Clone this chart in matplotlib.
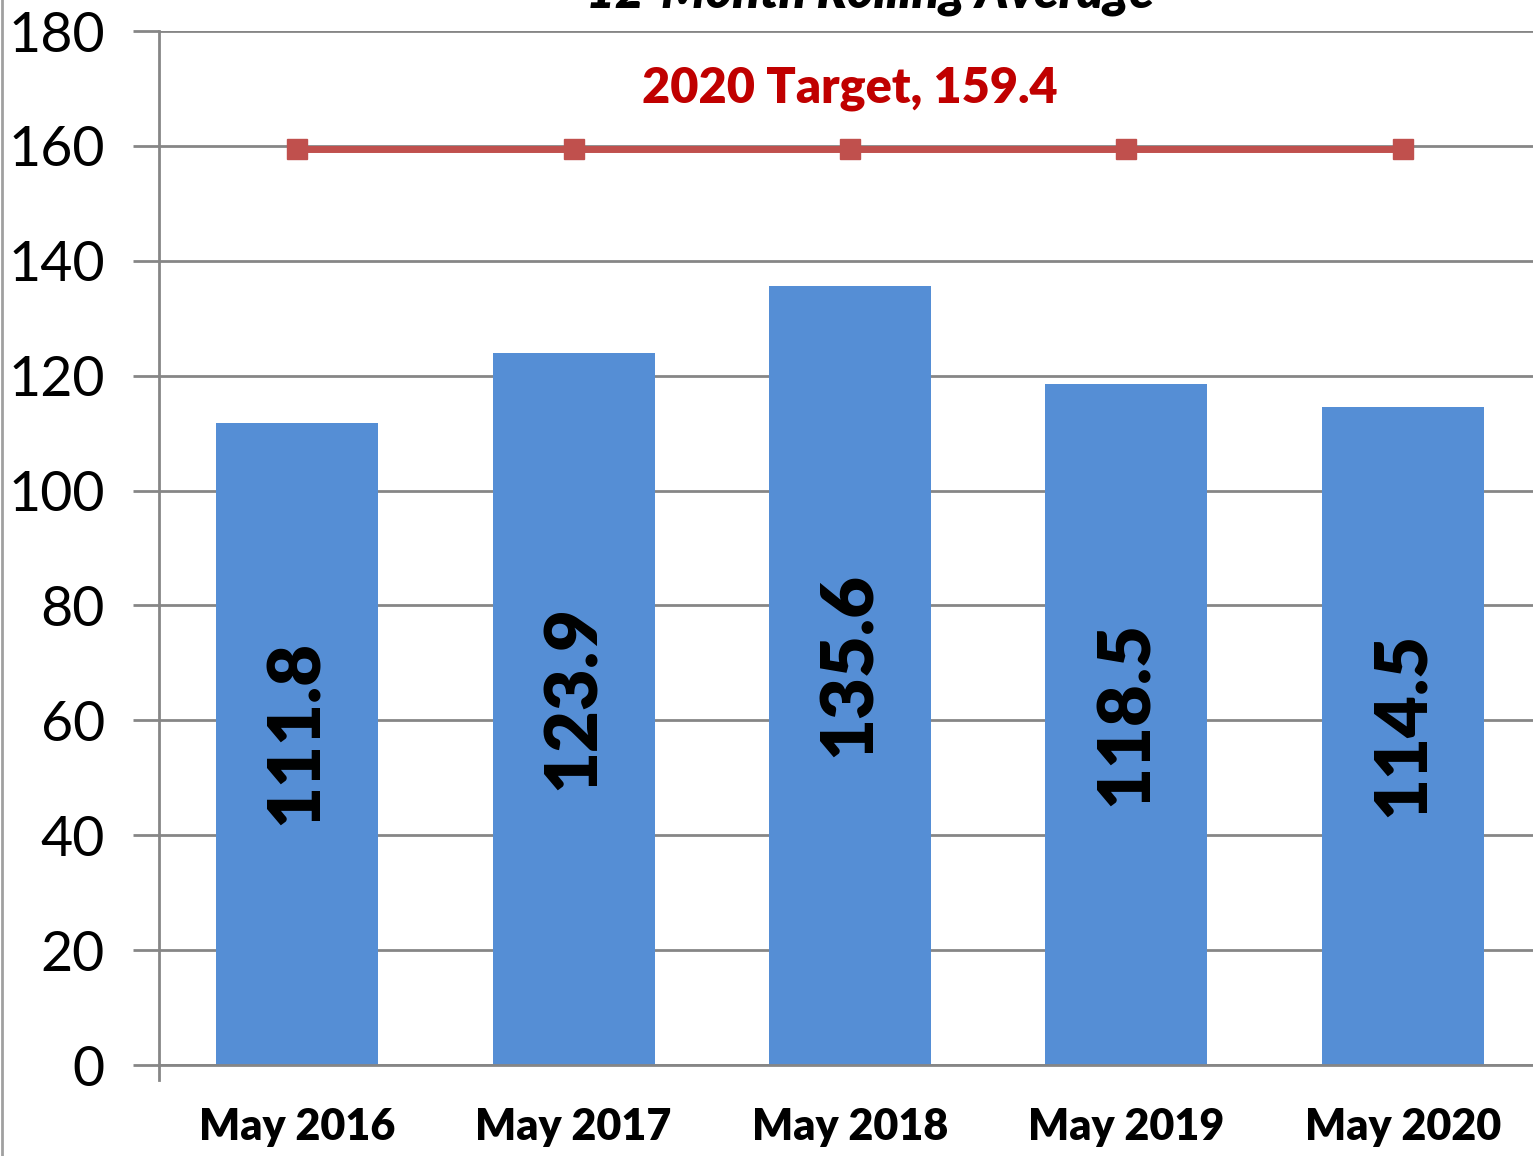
import matplotlib.pyplot as plt

months = ['May 2016', 'May 2017', 'May 2018', 'May 2019', 'May 2020']
values = [111.8, 123.9, 135.6, 118.5, 114.5]
target = [159.4, 159.4, 159.4, 159.4, 159.4]
yticks = [0, 20, 40, 60, 80, 100, 120, 140, 160, 180]

plt.rcParams['font.family'] = ['Lato', 'DejaVu Sans']

fig = plt.figure(figsize=(15.33, 11.56), dpi=100)
ax = fig.add_axes([159 / 1533, 91 / 1156, 1382 / 1533, 1034 / 1156])

x = list(range(len(months)))
ax.bar(x, values, width=0.586, color='#558ED5', zorder=2)
ax.plot(x, target, color='#C0504D', lw=5, marker='s', ms=15,
        mfc='#C0504D', mec='#C0504D', zorder=3)

for xi, v in zip(x, values):
    ax.text(xi, v / 2 + 2, f'{v:.1f}', rotation=90, ha='center', va='center',
            fontsize=52, fontweight='heavy', color='black', zorder=4)

ax.text(2, 170, f'2020 Target, {target[0]}', ha='center', va='center',
        fontsize=35, fontweight='heavy', color='#C00000')

ax.set_xlim(-0.5, 4.5)
ax.set_ylim(0, 180)
ax.set_yticks(yticks)
ax.set_xticks(x)
ax.set_xticklabels(months, fontsize=31, fontweight='heavy')
ax.tick_params(axis='y', labelsize=40, length=19, width=2, color='#868686', pad=20)
ax.tick_params(axis='x', length=0, pad=30)
ax.grid(axis='y', color='#868686', lw=2, zorder=1)
ax.set_axisbelow(True)

for s in ['top', 'right']:
    ax.spines[s].set_visible(False)
for s in ['left', 'bottom']:
    ax.spines[s].set_color('#868686')
    ax.spines[s].set_linewidth(2)
ax.spines['left'].set_bounds(0, 180)
ax.plot([-0.5, -0.5], [0, -2.6], color='#868686', lw=2, clip_on=False)

# title sits mostly above the visible area, as in the source image
fig.text(870 / 1533, 1 - 8 / 1156, '12-Month Rolling Average', ha='center',
         va='baseline', fontsize=36, fontweight='heavy', style='italic')
fig.add_artist(plt.Line2D([2 / 1533, 2 / 1533], [0, 1], color='#A0A0A0', lw=2))

fig.savefig('out.png', dpi=100)
